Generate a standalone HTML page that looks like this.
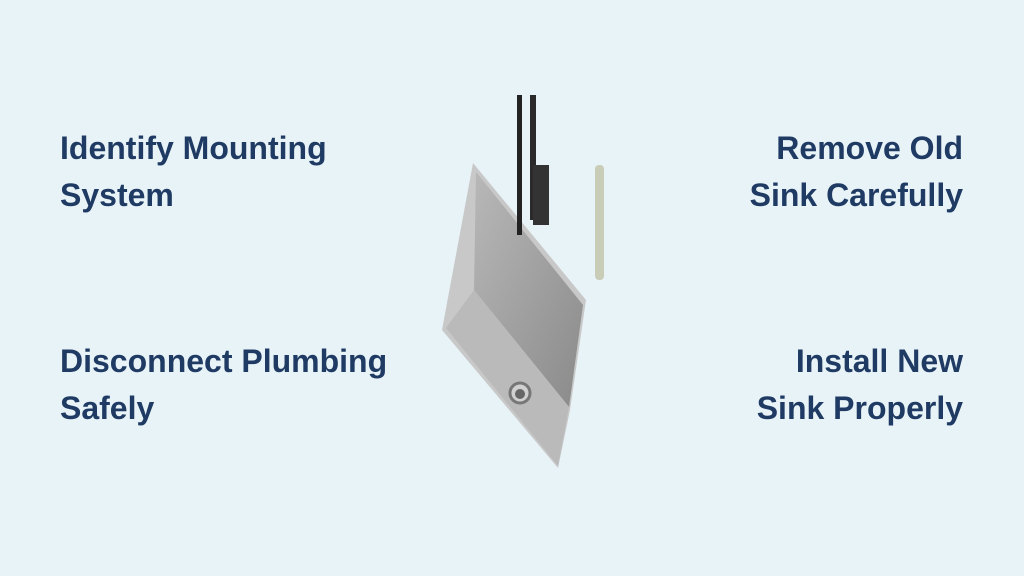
<!DOCTYPE html>
<html><head><style>
body{margin:0;width:1024px;height:576px;background:#e8f3f8;overflow:hidden;position:relative;font-family:"Liberation Sans",sans-serif;}
.t{position:absolute;font-weight:bold;font-size:32px;line-height:47px;color:#1f3b63;}
.l{left:60px}.r{right:61px;text-align:right}
</style></head><body>
<div class="t l" style="top:125px">Identify Mounting<br>System</div>
<div class="t r" style="top:125px">Remove Old<br>Sink Carefully</div>
<div class="t l" style="top:338px">Disconnect Plumbing<br>Safely</div>
<div class="t r" style="top:338px">Install New<br>Sink Properly</div>
<svg width="1024" height="576" style="position:absolute;left:0;top:0">
<defs><linearGradient id="g" x1="0" y1="0" x2="1" y2="1"><stop offset="0" stop-color="#b8b8b8"/><stop offset="1" stop-color="#8a8a8a"/></linearGradient></defs>
<polygon points="473,163 586,300 570,410 558,468 442,330" fill="#c8c8c8"/>
<polygon points="476,172 583,305 569,407 474,290" fill="url(#g)"/>
<polygon points="474,290 569,407 558,466 446,328" fill="#bababa"/>
<circle cx="520" cy="393" r="10" fill="#d0d0d0" stroke="#777" stroke-width="3"/>
<circle cx="520" cy="394" r="5" fill="#666"/>
<rect x="517" y="95" width="5" height="140" fill="#222"/>
<rect x="530" y="95" width="6" height="125" fill="#2a2a2a"/>
<rect x="533" y="165" width="16" height="60" fill="#333"/>
<rect x="595" y="165" width="9" height="115" rx="4" fill="#c9cdb8"/>
</svg>
</body></html>
